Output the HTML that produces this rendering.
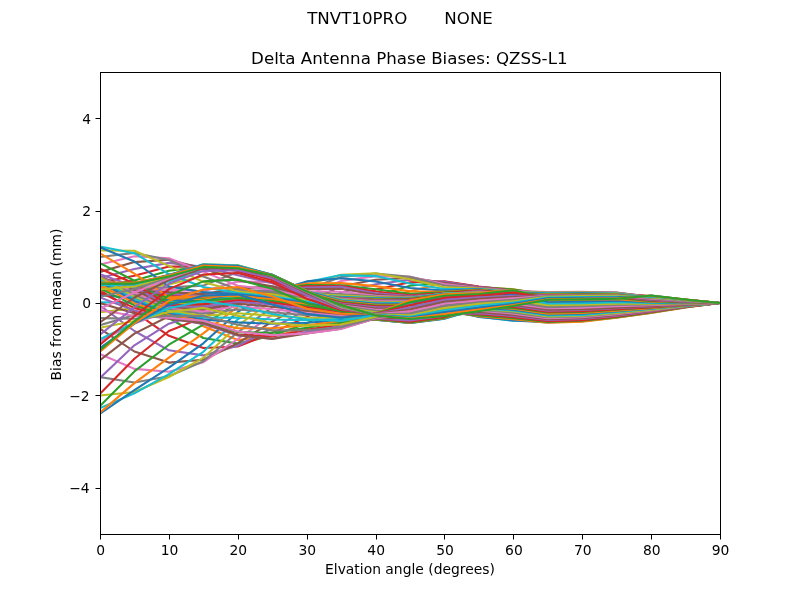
<!DOCTYPE html>
<html lang="en"><head><meta charset="utf-8"><title>Delta Antenna Phase Biases: QZSS-L1</title>
<style>
html,body{margin:0;padding:0;background:#fff;}
body{width:800px;height:600px;overflow:hidden;}
svg{display:block;font-family:"DejaVu Sans","Liberation Sans",sans-serif;fill:#000;}
.t10{font-size:13.89px;}
.t12{font-size:16.67px;}
.ln polyline{fill:none;stroke-width:2.083;stroke-linejoin:round;stroke-linecap:butt;}
.tk line{stroke:#000;stroke-width:1;}
</style></head><body>
<svg width="800" height="600" viewBox="0 0 800 600">
<rect x="0" y="0" width="800" height="600" fill="#fff"/>
<defs><clipPath id="ax"><rect x="100" y="72" width="620" height="462"/></clipPath></defs>
<g class="ln" clip-path="url(#ax)">
<polyline stroke="#1f77b4" points="100.0,283.6 134.4,283.6 168.9,276.5 203.3,266.9 237.8,268.3 272.2,275.3 306.7,291.4 341.1,305.1 375.6,315.5 410.0,319.0 444.4,316.0 478.9,311.3 513.3,306.0 547.8,299.8 582.2,299.4 616.7,298.7 651.1,295.5 685.6,299.5 720.0,303.0"/>
<polyline stroke="#ff7f0e" points="100.0,282.1 134.4,287.2 168.9,294.7 203.3,326.3 237.8,340.0 272.2,336.5 306.7,328.6 341.1,313.5 375.6,302.9 410.0,291.2 444.4,283.1 478.9,287.3 513.3,289.2 547.8,295.1 582.2,295.1 616.7,295.2 651.1,295.9 685.6,299.7 720.0,303.0"/>
<polyline stroke="#2ca02c" points="100.0,284.2 134.4,297.7 168.9,318.0 203.3,338.0 237.8,343.6 272.2,335.6 306.7,323.4 341.1,306.3 375.6,296.0 410.0,285.8 444.4,281.9 478.9,286.7 513.3,289.6 547.8,294.5 582.2,294.5 616.7,294.5 651.1,296.2 685.6,299.9 720.0,303.0"/>
<polyline stroke="#d62728" points="100.0,290.2 134.4,311.8 168.9,335.8 203.3,348.0 237.8,346.5 272.2,332.9 306.7,316.9 341.1,299.2 375.6,289.4 410.0,282.2 444.4,281.2 478.9,286.5 513.3,290.6 547.8,293.9 582.2,293.7 616.7,293.8 651.1,296.4 685.6,299.9 720.0,303.0"/>
<polyline stroke="#9467bd" points="100.0,305.5 134.4,331.0 168.9,350.3 203.3,355.4 237.8,345.8 272.2,328.2 306.7,309.6 341.1,292.4 375.6,284.3 410.0,279.8 444.4,281.7 478.9,287.0 513.3,290.9 547.8,293.1 582.2,292.9 616.7,293.1 651.1,296.7 685.6,300.1 720.0,303.0"/>
<polyline stroke="#8c564b" points="100.0,328.7 134.4,351.5 168.9,362.6 203.3,359.7 237.8,343.2 272.2,321.7 306.7,302.3 341.1,286.2 375.6,279.8 410.0,277.9 444.4,282.7 478.9,287.6 513.3,291.4 547.8,292.3 582.2,292.1 616.7,292.5 651.1,296.9 685.6,300.2 720.0,303.0"/>
<polyline stroke="#e377c2" points="100.0,354.0 134.4,368.9 168.9,371.8 203.3,362.2 237.8,339.0 272.2,314.8 306.7,295.4 341.1,280.9 375.6,276.1 410.0,276.7 444.4,284.0 478.9,288.0 513.3,291.1 547.8,292.0 582.2,291.9 616.7,292.7 651.1,297.0 685.6,300.2 720.0,303.0"/>
<polyline stroke="#7f7f7f" points="100.0,377.1 134.4,382.5 168.9,376.2 203.3,361.3 237.8,332.3 272.2,307.3 306.7,289.4 341.1,276.9 375.6,273.5 410.0,276.8 444.4,285.5 478.9,288.3 513.3,291.7 547.8,292.6 582.2,292.4 616.7,292.9 651.1,297.4 685.6,300.4 720.0,303.0"/>
<polyline stroke="#bcbd22" points="100.0,395.5 134.4,392.0 168.9,377.0 203.3,357.9 237.8,325.5 272.2,300.9 306.7,284.7 341.1,274.8 375.6,273.2 410.0,279.2 444.4,287.2 478.9,288.6 513.3,292.0 547.8,292.9 582.2,292.6 616.7,293.3 651.1,297.6 685.6,300.5 720.0,303.0"/>
<polyline stroke="#17becf" points="100.0,408.1 134.4,393.4 168.9,374.2 203.3,351.8 237.8,319.3 272.2,295.8 306.7,281.9 341.1,275.1 375.6,276.1 410.0,283.5 444.4,289.0 478.9,289.0 513.3,292.3 547.8,293.4 582.2,293.2 616.7,293.6 651.1,297.7 685.6,300.6 720.0,303.0"/>
<polyline stroke="#1f77b4" points="100.0,413.7 134.4,390.2 168.9,367.6 203.3,343.3 237.8,311.9 272.2,291.7 306.7,281.4 341.1,278.2 375.6,281.4 410.0,288.0 444.4,290.6 478.9,289.3 513.3,292.9 547.8,293.7 582.2,293.4 616.7,294.0 651.1,298.1 685.6,300.7 720.0,303.0"/>
<polyline stroke="#ff7f0e" points="100.0,412.7 134.4,383.1 168.9,357.7 203.3,333.4 237.8,306.6 272.2,289.5 306.7,283.5 341.1,283.1 375.6,286.1 410.0,291.4 444.4,291.7 478.9,289.7 513.3,293.2 547.8,294.2 582.2,294.0 616.7,294.3 651.1,298.2 685.6,300.8 720.0,303.0"/>
<polyline stroke="#2ca02c" points="100.0,406.1 134.4,371.4 168.9,344.7 203.3,324.7 237.8,303.1 272.2,288.7 306.7,285.1 341.1,285.3 375.6,289.2 410.0,293.7 444.4,292.4 478.9,290.2 513.3,293.5 547.8,294.8 582.2,294.2 616.7,294.7 651.1,298.4 685.6,300.9 720.0,303.0"/>
<polyline stroke="#d62728" points="100.0,393.7 134.4,358.7 168.9,331.0 203.3,317.4 237.8,301.4 272.2,288.8 306.7,286.4 341.1,286.0 375.6,291.5 410.0,295.2 444.4,293.1 478.9,290.6 513.3,293.8 547.8,295.3 582.2,294.8 616.7,295.0 651.1,298.7 685.6,301.0 720.0,303.0"/>
<polyline stroke="#9467bd" points="100.0,377.9 134.4,345.3 168.9,323.7 203.3,313.0 237.8,300.5 272.2,289.6 306.7,287.6 341.1,286.7 375.6,293.3 410.0,296.1 444.4,294.4 478.9,291.1 513.3,294.3 547.8,295.6 582.2,295.8 616.7,296.1 651.1,298.9 685.6,301.1 720.0,303.0"/>
<polyline stroke="#8c564b" points="100.0,360.1 134.4,333.6 168.9,316.3 203.3,309.9 237.8,299.5 272.2,290.6 306.7,289.0 341.1,288.8 375.6,294.6 410.0,296.8 444.4,294.8 478.9,291.5 513.3,294.6 547.8,297.0 582.2,296.9 616.7,297.0 651.1,299.1 685.6,301.2 720.0,303.0"/>
<polyline stroke="#e377c2" points="100.0,341.3 134.4,323.5 168.9,311.0 203.3,307.6 237.8,298.4 272.2,291.7 306.7,291.2 341.1,291.8 375.6,295.7 410.0,297.3 444.4,294.6 478.9,291.9 513.3,294.9 547.8,298.1 582.2,298.0 616.7,297.7 651.1,299.3 685.6,301.3 720.0,303.0"/>
<polyline stroke="#7f7f7f" points="100.0,325.2 134.4,315.0 168.9,307.0 203.3,305.6 237.8,297.3 272.2,292.7 306.7,292.9 341.1,294.0 375.6,296.6 410.0,297.6 444.4,293.8 478.9,292.3 513.3,295.2 547.8,298.9 582.2,298.5 616.7,298.4 651.1,299.6 685.6,301.4 720.0,303.0"/>
<polyline stroke="#bcbd22" points="100.0,312.3 134.4,308.1 168.9,304.0 203.3,303.9 237.8,296.1 272.2,293.5 306.7,294.1 341.1,295.6 375.6,297.4 410.0,297.9 444.4,293.6 478.9,292.6 513.3,295.5 547.8,299.5 582.2,299.1 616.7,298.9 651.1,299.8 685.6,301.5 720.0,303.0"/>
<polyline stroke="#17becf" points="100.0,302.4 134.4,302.5 168.9,301.7 203.3,302.2 237.8,294.9 272.2,294.1 306.7,294.9 341.1,296.7 375.6,298.0 410.0,298.1 444.4,293.5 478.9,293.3 513.3,296.2 547.8,300.4 582.2,300.0 616.7,299.4 651.1,300.2 685.6,301.7 720.0,303.0"/>
<polyline stroke="#1f77b4" points="100.0,295.0 134.4,298.1 168.9,299.9 203.3,300.6 237.8,293.7 272.2,294.4 306.7,295.3 341.1,297.4 375.6,298.6 410.0,298.3 444.4,294.0 478.9,293.8 513.3,296.6 547.8,300.8 582.2,300.3 616.7,299.7 651.1,300.6 685.6,301.8 720.0,303.0"/>
<polyline stroke="#ff7f0e" points="100.0,289.9 134.4,294.8 168.9,298.3 203.3,298.9 237.8,292.6 272.2,294.3 306.7,295.3 341.1,297.8 375.6,299.1 410.0,298.6 444.4,295.0 478.9,294.7 513.3,297.3 547.8,301.1 582.2,300.7 616.7,300.1 651.1,300.8 685.6,301.9 720.0,303.0"/>
<polyline stroke="#2ca02c" points="100.0,286.7 134.4,292.5 168.9,296.9 203.3,297.6 237.8,291.8 272.2,293.6 306.7,295.0 341.1,298.1 375.6,299.6 410.0,298.9 444.4,295.4 478.9,295.3 513.3,297.9 547.8,301.5 582.2,301.1 616.7,300.4 651.1,301.0 685.6,302.0 720.0,303.0"/>
<polyline stroke="#d62728" points="100.0,284.9 134.4,290.8 168.9,295.4 203.3,296.8 237.8,292.0 272.2,292.3 306.7,294.4 341.1,298.3 375.6,300.0 410.0,299.3 444.4,296.0 478.9,296.0 513.3,298.6 547.8,302.2 582.2,301.8 616.7,301.0 651.1,301.3 685.6,302.2 720.0,303.0"/>
<polyline stroke="#9467bd" points="100.0,284.4 134.4,289.8 168.9,293.9 203.3,295.9 237.8,291.5 272.2,289.9 306.7,293.6 341.1,298.4 375.6,300.4 410.0,299.7 444.4,296.5 478.9,296.5 513.3,299.0 547.8,302.6 582.2,302.2 616.7,301.3 651.1,301.6 685.6,302.3 720.0,303.0"/>
<polyline stroke="#8c564b" points="100.0,284.7 134.4,289.1 168.9,292.1 203.3,294.1 237.8,288.6 272.2,286.3 306.7,292.9 341.1,298.6 375.6,300.9 410.0,300.2 444.4,297.0 478.9,297.0 513.3,299.4 547.8,303.1 582.2,302.6 616.7,301.7 651.1,302.0 685.6,302.5 720.0,303.0"/>
<polyline stroke="#e377c2" points="100.0,285.6 134.4,288.8 168.9,289.9 203.3,291.3 237.8,281.4 272.2,282.2 306.7,292.2 341.1,298.9 375.6,301.4 410.0,300.8 444.4,297.6 478.9,297.9 513.3,300.4 547.8,303.8 582.2,303.4 616.7,302.4 651.1,302.4 685.6,302.7 720.0,303.0"/>
<polyline stroke="#7f7f7f" points="100.0,286.7 134.4,288.5 168.9,287.4 203.3,285.6 237.8,272.0 272.2,278.3 306.7,291.7 341.1,299.2 375.6,302.0 410.0,301.4 444.4,298.6 478.9,298.4 513.3,300.8 547.8,304.3 582.2,303.9 616.7,302.8 651.1,302.7 685.6,302.8 720.0,303.0"/>
<polyline stroke="#bcbd22" points="100.0,287.7 134.4,288.0 168.9,284.6 203.3,276.1 237.8,267.1 272.2,275.5 306.7,291.4 341.1,299.6 375.6,302.6 410.0,302.1 444.4,299.2 478.9,299.1 513.3,301.6 547.8,304.8 582.2,304.4 616.7,303.3 651.1,303.2 685.6,303.1 720.0,303.0"/>
<polyline stroke="#17becf" points="100.0,288.4 134.4,287.3 168.9,281.5 203.3,269.4 237.8,265.8 272.2,274.7 306.7,291.2 341.1,300.1 375.6,303.2 410.0,302.9 444.4,300.1 478.9,299.6 513.3,302.3 547.8,305.6 582.2,305.2 616.7,304.0 651.1,303.6 685.6,303.2 720.0,303.0"/>
<polyline stroke="#1f77b4" points="100.0,288.4 134.4,286.0 168.9,278.2 203.3,267.1 237.8,266.0 272.2,275.2 306.7,291.5 341.1,300.7 375.6,303.9 410.0,303.6 444.4,300.8 478.9,300.4 513.3,303.2 547.8,306.2 582.2,305.7 616.7,304.5 651.1,304.1 685.6,303.5 720.0,303.0"/>
<polyline stroke="#ff7f0e" points="100.0,287.6 134.4,283.8 168.9,274.7 203.3,267.3 237.8,266.9 272.2,276.1 306.7,292.5 341.1,301.3 375.6,304.7 410.0,304.5 444.4,301.6 478.9,301.2 513.3,304.4 547.8,306.8 582.2,306.6 616.7,305.3 651.1,304.6 685.6,303.7 720.0,303.0"/>
<polyline stroke="#2ca02c" points="100.0,285.7 134.4,280.5 168.9,270.8 203.3,266.9 237.8,268.3 272.2,277.7 306.7,293.6 341.1,302.0 375.6,305.5 410.0,305.4 444.4,302.6 478.9,301.9 513.3,306.3 547.8,307.7 582.2,307.2 616.7,305.8 651.1,305.0 685.6,303.9 720.0,303.0"/>
<polyline stroke="#d62728" points="100.0,282.5 134.4,275.7 168.9,266.6 203.3,266.6 237.8,270.9 272.2,280.2 306.7,294.6 341.1,302.7 375.6,306.4 410.0,306.3 444.4,303.6 478.9,303.1 513.3,307.6 547.8,308.6 582.2,308.1 616.7,306.6 651.1,305.5 685.6,304.1 720.0,303.0"/>
<polyline stroke="#9467bd" points="100.0,278.0 134.4,269.0 168.9,262.9 203.3,266.9 237.8,275.2 272.2,283.2 306.7,295.6 341.1,303.5 375.6,307.4 410.0,307.4 444.4,304.7 478.9,304.8 513.3,309.4 547.8,309.4 582.2,308.8 616.7,307.2 651.1,305.9 685.6,304.3 720.0,303.0"/>
<polyline stroke="#8c564b" points="100.0,271.9 134.4,262.1 168.9,259.8 203.3,268.4 237.8,280.3 272.2,286.4 306.7,296.6 341.1,304.3 375.6,308.5 410.0,308.6 444.4,305.5 478.9,306.9 513.3,311.7 547.8,310.9 582.2,310.3 616.7,308.5 651.1,306.7 685.6,304.6 720.0,303.0"/>
<polyline stroke="#e377c2" points="100.0,264.5 134.4,256.3 168.9,258.2 203.3,271.6 237.8,285.8 272.2,289.4 306.7,297.7 341.1,305.2 375.6,309.7 410.0,309.9 444.4,306.5 478.9,310.1 513.3,314.2 547.8,312.9 582.2,312.2 616.7,310.1 651.1,307.7 685.6,305.1 720.0,303.0"/>
<polyline stroke="#7f7f7f" points="100.0,257.0 134.4,252.9 168.9,259.9 203.3,276.6 237.8,289.4 272.2,292.0 306.7,298.9 341.1,306.1 375.6,310.9 410.0,311.4 444.4,307.2 478.9,312.9 513.3,317.4 547.8,315.7 582.2,314.6 616.7,312.2 651.1,309.2 685.6,305.7 720.0,303.0"/>
<polyline stroke="#bcbd22" points="100.0,250.5 134.4,250.8 168.9,265.9 203.3,281.9 237.8,291.6 272.2,294.3 306.7,300.1 341.1,307.2 375.6,312.2 410.0,313.1 444.4,307.8 478.9,315.1 513.3,319.7 547.8,318.6 582.2,317.6 616.7,314.5 651.1,310.7 685.6,306.4 720.0,303.0"/>
<polyline stroke="#17becf" points="100.0,246.4 134.4,253.2 168.9,274.2 203.3,287.1 237.8,293.0 272.2,296.2 306.7,301.5 341.1,308.2 375.6,313.5 410.0,315.0 444.4,308.5 478.9,316.6 513.3,320.8 547.8,320.8 582.2,319.7 616.7,316.2 651.1,311.8 685.6,306.9 720.0,303.0"/>
<polyline stroke="#1f77b4" points="100.0,247.3 134.4,261.5 168.9,286.5 203.3,292.1 237.8,294.2 272.2,297.9 306.7,302.9 341.1,309.3 375.6,314.8 410.0,316.8 444.4,309.4 478.9,316.9 513.3,320.4 547.8,322.4 582.2,321.2 616.7,317.4 651.1,312.7 685.6,307.3 720.0,303.0"/>
<polyline stroke="#ff7f0e" points="100.0,253.4 134.4,273.6 168.9,297.4 203.3,296.6 237.8,295.7 272.2,299.4 306.7,304.3 341.1,310.4 375.6,315.9 410.0,318.3 444.4,310.7 478.9,316.2 513.3,319.3 547.8,322.8 582.2,321.6 616.7,317.7 651.1,312.9 685.6,307.4 720.0,303.0"/>
<polyline stroke="#2ca02c" points="100.0,263.2 134.4,280.7 168.9,303.0 203.3,300.7 237.8,298.1 272.2,301.0 306.7,305.8 341.1,311.6 375.6,316.8 410.0,319.6 444.4,312.1 478.9,315.5 513.3,318.3 547.8,321.9 582.2,320.8 616.7,317.1 651.1,312.4 685.6,307.2 720.0,303.0"/>
<polyline stroke="#d62728" points="100.0,268.8 134.4,283.5 168.9,305.5 203.3,304.1 237.8,300.4 272.2,302.6 306.7,307.4 341.1,312.7 375.6,317.6 410.0,320.6 444.4,313.7 478.9,314.3 513.3,317.1 547.8,321.1 582.2,320.1 616.7,316.4 651.1,312.0 685.6,307.0 720.0,303.0"/>
<polyline stroke="#9467bd" points="100.0,274.2 134.4,286.6 168.9,307.0 203.3,306.9 237.8,302.0 272.2,304.5 306.7,309.1 341.1,313.8 375.6,318.3 410.0,321.4 444.4,315.0 478.9,313.3 513.3,316.0 547.8,320.0 582.2,319.0 616.7,315.6 651.1,311.4 685.6,306.8 720.0,303.0"/>
<polyline stroke="#8c564b" points="100.0,276.6 134.4,289.6 168.9,308.0 203.3,309.4 237.8,303.7 272.2,306.7 306.7,311.0 341.1,314.9 375.6,318.8 410.0,322.0 444.4,316.2 478.9,311.9 513.3,314.9 547.8,319.2 582.2,318.3 616.7,315.0 651.1,311.0 685.6,306.6 720.0,303.0"/>
<polyline stroke="#e377c2" points="100.0,277.2 134.4,292.3 168.9,308.9 203.3,311.6 237.8,306.2 272.2,309.3 306.7,313.1 341.1,316.0 375.6,319.2 410.0,322.4 444.4,317.1 478.9,310.7 513.3,313.6 547.8,318.1 582.2,317.2 616.7,314.1 651.1,310.4 685.6,306.3 720.0,303.0"/>
<polyline stroke="#7f7f7f" points="100.0,277.2 134.4,294.7 168.9,309.9 203.3,313.7 237.8,309.4 272.2,312.3 306.7,315.3 341.1,317.0 375.6,319.5 410.0,322.7 444.4,317.8 478.9,309.7 513.3,312.6 547.8,317.3 582.2,316.5 616.7,313.5 651.1,310.0 685.6,306.1 720.0,303.0"/>
<polyline stroke="#bcbd22" points="100.0,277.6 134.4,296.9 168.9,311.1 203.3,315.7 237.8,313.2 272.2,315.7 306.7,317.7 341.1,318.0 375.6,319.6 410.0,322.8 444.4,318.4 478.9,308.9 513.3,311.3 547.8,316.5 582.2,315.7 616.7,312.9 651.1,309.6 685.6,305.9 720.0,303.0"/>
<polyline stroke="#17becf" points="100.0,279.6 134.4,298.9 168.9,312.4 203.3,317.7 237.8,317.5 272.2,319.5 306.7,320.2 341.1,319.1 375.6,319.7 410.0,322.9 444.4,318.7 478.9,308.4 513.3,310.5 547.8,315.4 582.2,314.9 616.7,312.0 651.1,309.0 685.6,305.7 720.0,303.0"/>
<polyline stroke="#1f77b4" points="100.0,282.0 134.4,301.0 168.9,313.8 203.3,319.5 237.8,322.4 272.2,323.7 306.7,322.7 341.1,320.2 375.6,319.7 410.0,322.9 444.4,318.6 478.9,307.9 513.3,309.7 547.8,314.5 582.2,313.8 616.7,311.3 651.1,308.5 685.6,305.5 720.0,303.0"/>
<polyline stroke="#ff7f0e" points="100.0,284.9 134.4,303.2 168.9,315.3 203.3,321.2 237.8,328.3 272.2,328.2 306.7,325.3 341.1,321.4 375.6,319.5 410.0,322.7 444.4,318.1 478.9,307.2 513.3,308.7 547.8,313.6 582.2,312.9 616.7,310.7 651.1,308.1 685.6,305.3 720.0,303.0"/>
<polyline stroke="#2ca02c" points="100.0,288.4 134.4,305.4 168.9,316.6 203.3,322.5 237.8,332.1 272.2,332.8 306.7,327.7 341.1,322.8 375.6,319.2 410.0,322.4 444.4,317.6 478.9,306.5 513.3,308.0 547.8,312.5 582.2,311.9 616.7,309.8 651.1,307.5 685.6,305.0 720.0,303.0"/>
<polyline stroke="#d62728" points="100.0,292.5 134.4,307.9 168.9,317.8 203.3,323.5 237.8,334.5 272.2,336.4 306.7,329.9 341.1,324.5 375.6,318.8 410.0,321.8 444.4,316.9 478.9,305.7 513.3,307.0 547.8,311.7 582.2,311.1 616.7,309.2 651.1,307.1 685.6,304.8 720.0,303.0"/>
<polyline stroke="#9467bd" points="100.0,297.4 134.4,310.5 168.9,318.5 203.3,323.9 237.8,335.5 272.2,338.7 306.7,331.9 341.1,326.4 375.6,318.4 410.0,320.4 444.4,315.8 478.9,305.1 513.3,305.7 547.8,310.6 582.2,310.0 616.7,308.3 651.1,306.5 685.6,304.6 720.0,303.0"/>
<polyline stroke="#8c564b" points="100.0,303.1 134.4,313.3 168.9,318.6 203.3,323.1 237.8,335.1 272.2,338.9 306.7,333.5 341.1,328.6 375.6,318.4 410.0,317.9 444.4,314.7 478.9,304.3 513.3,304.8 547.8,309.7 582.2,309.2 616.7,307.6 651.1,306.1 685.6,304.4 720.0,303.0"/>
<polyline stroke="#e377c2" points="100.0,310.0 134.4,316.0 168.9,317.7 203.3,320.7 237.8,331.5 272.2,335.3 306.7,333.4 341.1,329.0 375.6,318.2 410.0,314.6 444.4,313.2 478.9,303.5 513.3,303.6 547.8,308.2 582.2,307.8 616.7,306.3 651.1,305.3 685.6,304.0 720.0,303.0"/>
<polyline stroke="#7f7f7f" points="100.0,318.1 134.4,318.7 168.9,315.7 203.3,316.0 237.8,324.7 272.2,330.4 306.7,330.2 341.1,327.2 375.6,317.7 410.0,311.2 444.4,311.4 478.9,302.1 513.3,302.0 547.8,307.1 582.2,306.3 616.7,305.0 651.1,304.5 685.6,303.6 720.0,303.0"/>
<polyline stroke="#bcbd22" points="100.0,327.8 134.4,321.0 168.9,312.1 203.3,307.9 237.8,315.8 272.2,323.3 306.7,325.6 341.1,324.5 375.6,316.7 410.0,307.6 444.4,308.7 478.9,300.1 513.3,300.1 547.8,305.3 582.2,304.8 616.7,303.7 651.1,303.8 685.6,303.3 720.0,303.0"/>
<polyline stroke="#17becf" points="100.0,339.2 134.4,322.7 168.9,308.3 203.3,301.1 237.8,306.0 272.2,314.0 306.7,319.2 341.1,320.9 375.6,314.9 410.0,304.1 444.4,303.3 478.9,297.5 513.3,297.6 547.8,303.5 582.2,303.1 616.7,302.1 651.1,303.0 685.6,302.9 720.0,303.0"/>
<polyline stroke="#1f77b4" points="100.0,348.1 134.4,323.6 168.9,304.9 203.3,295.8 237.8,294.5 272.2,304.5 306.7,313.9 341.1,317.7 375.6,313.5 410.0,301.5 444.4,298.3 478.9,294.5 513.3,294.0 547.8,301.8 582.2,301.4 616.7,300.6 651.1,302.2 685.6,302.6 720.0,303.0"/>
<polyline stroke="#ff7f0e" points="100.0,351.8 134.4,323.2 168.9,300.8 203.3,289.5 237.8,287.0 272.2,296.5 306.7,308.7 341.1,313.7 375.6,313.5 410.0,300.5 444.4,294.2 478.9,293.0 513.3,290.0 547.8,300.1 582.2,299.7 616.7,299.1 651.1,301.7 685.6,302.4 720.0,303.0"/>
<polyline stroke="#2ca02c" points="100.0,350.2 134.4,321.3 168.9,295.2 203.3,281.4 237.8,279.6 272.2,288.7 306.7,303.2 341.1,311.3 375.6,313.8 410.0,302.3 444.4,295.7 478.9,294.1 513.3,290.3 547.8,298.6 582.2,298.2 616.7,297.9 651.1,301.1 685.6,302.1 720.0,303.0"/>
<polyline stroke="#d62728" points="100.0,344.6 134.4,316.2 168.9,289.1 203.3,274.5 237.8,273.0 272.2,282.2 306.7,298.8 341.1,309.9 375.6,313.9 410.0,304.9 444.4,297.9 478.9,295.7 513.3,292.6 547.8,297.8 582.2,297.4 616.7,297.2 651.1,300.4 685.6,301.8 720.0,303.0"/>
<polyline stroke="#9467bd" points="100.0,334.7 134.4,307.2 168.9,283.5 203.3,270.9 237.8,270.2 272.2,278.3 306.7,295.2 341.1,309.0 375.6,314.1 410.0,307.5 444.4,299.9 478.9,297.2 513.3,295.8 547.8,297.2 582.2,296.6 616.7,296.5 651.1,300.0 685.6,301.6 720.0,303.0"/>
<polyline stroke="#8c564b" points="100.0,322.5 134.4,297.5 168.9,280.0 203.3,268.3 237.8,268.2 272.2,276.6 306.7,292.9 341.1,308.2 375.6,314.2 410.0,309.5 444.4,301.8 478.9,298.8 513.3,296.9 547.8,296.4 582.2,296.3 616.7,296.3 651.1,299.4 685.6,301.3 720.0,303.0"/>
<polyline stroke="#e377c2" points="100.0,308.8 134.4,292.5 168.9,278.3 203.3,266.5 237.8,266.6 272.2,275.7 306.7,291.9 341.1,307.6 375.6,314.3 410.0,311.4 444.4,303.8 478.9,300.6 513.3,298.3 547.8,295.9 582.2,295.6 616.7,295.6 651.1,298.6 685.6,300.9 720.0,303.0"/>
<polyline stroke="#7f7f7f" points="100.0,296.7 134.4,289.0 168.9,277.1 203.3,265.1 237.8,265.6 272.2,275.2 306.7,291.4 341.1,307.1 375.6,314.4 410.0,313.6 444.4,305.9 478.9,302.4 513.3,299.7 547.8,296.1 582.2,295.3 616.7,295.4 651.1,297.9 685.6,300.6 720.0,303.0"/>
<polyline stroke="#bcbd22" points="100.0,289.2 134.4,286.4 168.9,276.1 203.3,264.3 237.8,265.3 272.2,274.9 306.7,291.0 341.1,306.7 375.6,314.6 410.0,315.4 444.4,308.1 478.9,303.9 513.3,301.2 547.8,296.7 582.2,296.1 616.7,295.9 651.1,297.2 685.6,300.3 720.0,303.0"/>
<polyline stroke="#17becf" points="100.0,285.3 134.4,284.4 168.9,275.3 203.3,264.2 237.8,265.5 272.2,274.8 306.7,291.0 341.1,306.2 375.6,314.8 410.0,316.8 444.4,310.3 478.9,305.9 513.3,302.6 547.8,297.5 582.2,297.1 616.7,296.7 651.1,296.5 685.6,300.0 720.0,303.0"/>
<polyline stroke="#1f77b4" points="100.0,283.4 134.4,283.2 168.9,274.9 203.3,264.7 237.8,266.1 272.2,274.8 306.7,291.0 341.1,305.8 375.6,315.0 410.0,317.8 444.4,312.3 478.9,307.7 513.3,303.9 547.8,298.3 582.2,297.7 616.7,297.4 651.1,296.0 685.6,299.8 720.0,303.0"/>
<polyline stroke="#ff7f0e" points="100.0,282.6 134.4,282.8 168.9,275.4 203.3,265.6 237.8,267.0 272.2,274.9 306.7,291.0 341.1,305.4 375.6,315.2 410.0,318.5 444.4,314.1 478.9,309.5 513.3,305.1 547.8,299.2 582.2,298.8 616.7,298.2 651.1,295.7 685.6,299.6 720.0,303.0"/>
<polyline stroke="#2ca02c" points="100.0,283.6 134.4,283.6 168.9,276.5 203.3,266.9 237.8,268.3 272.2,275.3 306.7,291.4 341.1,305.1 375.6,315.5 410.0,319.0 444.4,316.0 478.9,311.3 513.3,306.0 547.8,299.8 582.2,299.4 616.7,298.7 651.1,295.5 685.6,299.5 720.0,303.0"/>
</g>
<g class="tk">
<line x1="100.50" y1="534.5" x2="100.50" y2="539.5"/>
<line x1="169.50" y1="534.5" x2="169.50" y2="539.5"/>
<line x1="238.50" y1="534.5" x2="238.50" y2="539.5"/>
<line x1="307.50" y1="534.5" x2="307.50" y2="539.5"/>
<line x1="376.50" y1="534.5" x2="376.50" y2="539.5"/>
<line x1="444.50" y1="534.5" x2="444.50" y2="539.5"/>
<line x1="513.50" y1="534.5" x2="513.50" y2="539.5"/>
<line x1="582.50" y1="534.5" x2="582.50" y2="539.5"/>
<line x1="651.50" y1="534.5" x2="651.50" y2="539.5"/>
<line x1="720.50" y1="534.5" x2="720.50" y2="539.5"/>
<line x1="95.5" y1="488.50" x2="100.5" y2="488.50"/>
<line x1="95.5" y1="395.50" x2="100.5" y2="395.50"/>
<line x1="95.5" y1="303.50" x2="100.5" y2="303.50"/>
<line x1="95.5" y1="211.50" x2="100.5" y2="211.50"/>
<line x1="95.5" y1="118.50" x2="100.5" y2="118.50"/>
</g>
<rect x="100.5" y="72.5" width="620" height="462" fill="none" stroke="#000" stroke-width="1"/>
<g class="t10">
<text x="100.60" y="554.6" text-anchor="middle">0</text><text x="169.49" y="554.6" text-anchor="middle">10</text><text x="238.38" y="554.6" text-anchor="middle">20</text><text x="307.27" y="554.6" text-anchor="middle">30</text><text x="376.16" y="554.6" text-anchor="middle">40</text><text x="445.04" y="554.6" text-anchor="middle">50</text><text x="513.93" y="554.6" text-anchor="middle">60</text><text x="582.82" y="554.6" text-anchor="middle">70</text><text x="651.71" y="554.6" text-anchor="middle">80</text><text x="720.60" y="554.6" text-anchor="middle">90</text>
<text x="89.6" y="493.10" text-anchor="end">−4</text><text x="89.6" y="400.70" text-anchor="end">−2</text><text x="91.0" y="308.30" text-anchor="end">0</text><text x="91.0" y="215.90" text-anchor="end">2</text><text x="91.0" y="123.50" text-anchor="end">4</text>
<text x="410" y="573.6" text-anchor="middle">Elvation angle (degrees)</text>
<text transform="translate(60.6,304.5) rotate(-90)" text-anchor="middle">Bias from mean (mm)</text>
</g>
<g class="t12">
<text x="409.3" y="64.3" text-anchor="middle">Delta Antenna Phase Biases: QZSS-L1</text>
<text x="400" y="24.2" text-anchor="middle" xml:space="preserve">TNVT10PRO       NONE</text>
</g>
</svg>
</body></html>
